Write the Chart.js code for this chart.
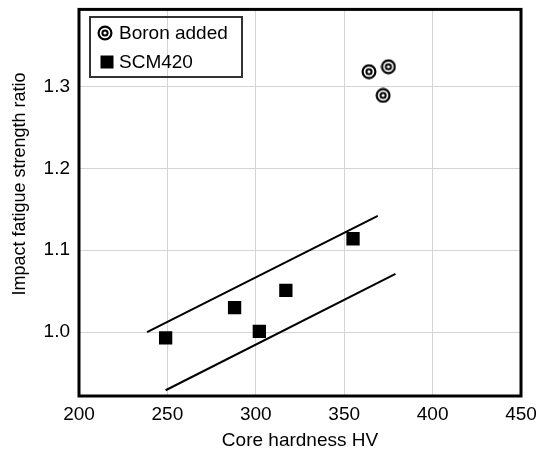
<!DOCTYPE html>
<html>
<head>
<meta charset="utf-8">
<script src="https://cdn.jsdelivr.net/npm/chart.js@4.4.1/dist/chart.umd.min.js"></script>
<style>
  html, body { margin: 0; padding: 0; background: #fff; }
  #wrap { width: 536px; height: 452px; }
</style>
</head>
<body>
<div id="wrap"><canvas id="c" width="536" height="452"></canvas></div>
<script>
// valeurs
const BORON_X = [364, 375, 372];
const BORON_Y = [1.318, 1.324, 1.289];
const SCM_X = [249, 288, 302, 317, 355];
const SCM_Y = [0.993, 1.030, 1.001, 1.051, 1.114];
// bande de dispersion (deux droites)
const UPPER_X = [238.5, 369];
const UPPER_Y = [1.000, 1.142];
const LOWER_X = [249, 379];
const LOWER_Y = [0.929, 1.071];
const X_TICKS = [200, 250, 300, 350, 400, 450];
const Y_TICKS = [1.0, 1.1, 1.2, 1.3];
const LEGEND = ["Boron added", "SCM420"];

const FONT = "'Liberation Sans', Arial, sans-serif";

function pts(xs, ys) { return xs.map((x, i) => ({ x: x, y: ys[i] })); }

// marqueur "cible" pour Boron added
function bullseye(size) {
    const cv = document.createElement("canvas");
    cv.width = size; cv.height = size;
    const c = cv.getContext("2d");
    const m = size / 2;
    c.strokeStyle = "#000";
    c.lineWidth = 2.2;
    c.beginPath(); c.arc(m, m, m - 1.6, 0, Math.PI * 2); c.stroke();
    c.lineWidth = 2;
    c.beginPath(); c.arc(m, m, 2.6, 0, Math.PI * 2); c.stroke();
    return cv;
}
const boronMarker = bullseye(16);

const framePlugin = {
    id: "frame",
    afterDraw(chart) {
        const { ctx, chartArea: a } = chart;
        ctx.save();
        ctx.strokeStyle = "#000";
        ctx.lineWidth = 3;
        ctx.strokeRect(a.left, a.top, a.right - a.left, a.bottom - a.top);

        // légende encadrée
        ctx.lineWidth = 2;
        ctx.strokeStyle = "#333";
        ctx.strokeRect(90, 17, 152, 60);
        ctx.drawImage(boronMarker, 105 - 8, 33 - 8);
        ctx.fillStyle = "#000";
        ctx.fillRect(107 - 6.5, 62 - 6.5, 13, 13);
        ctx.font = "19px " + FONT;
        ctx.textBaseline = "middle";
        ctx.fillText(LEGEND[0], 119, 34);
        ctx.fillText(LEGEND[1], 119, 63);

        // titre de l'axe Y
        ctx.translate(20, 184);
        ctx.rotate(-Math.PI / 2);
        ctx.textAlign = "center";
        ctx.font = "18px " + FONT;
        ctx.fillText("Impact fatigue strength ratio", 0, 0);
        ctx.restore();
    }
};

new Chart(document.getElementById("c"), {
    type: "scatter",
    data: {
        datasets: [
            {
                label: LEGEND[0],
                data: pts(BORON_X, BORON_Y),
                pointStyle: boronMarker,
                pointRadius: 8
            },
            {
                label: LEGEND[1],
                data: pts(SCM_X, SCM_Y),
                pointStyle: "rect",
                pointRadius: 9.4,
                backgroundColor: "#000",
                borderColor: "#000",
                borderWidth: 0
            },
            {
                type: "line",
                data: pts(UPPER_X, UPPER_Y),
                borderColor: "#000",
                borderWidth: 2,
                pointRadius: 0
            },
            {
                type: "line",
                data: pts(LOWER_X, LOWER_Y),
                borderColor: "#000",
                borderWidth: 2,
                pointRadius: 0
            }
        ]
    },
    options: {
        responsive: false,
        animation: false,
        layout: { padding: { left: 0, right: 15, top: 8, bottom: 0 } },
        plugins: { legend: { display: false }, tooltip: { enabled: false } },
        scales: {
            x: {
                type: "linear",
                min: 200, max: 450,
                afterBuildTicks(s) { s.ticks = X_TICKS.map(v => ({ value: v })); },
                afterFit(s) { s.height = 56; s.paddingLeft = 0; s.paddingRight = 0; },
                grid: { color: "#d4d4d4", lineWidth: 1, drawTicks: false },
                border: { display: false },
                ticks: { color: "#000", padding: 7, font: { family: FONT, size: 19 }, maxRotation: 0 },
                title: { display: true, text: "Core hardness HV", color: "#000", padding: { top: 2, bottom: 0 }, font: { family: FONT, size: 19 } }
            },
            y: {
                min: 0.922, max: 1.394,
                afterBuildTicks(s) { s.ticks = Y_TICKS.map(v => ({ value: v })); },
                afterFit(s) { s.width = 79; s.paddingTop = 0; s.paddingBottom = 0; },
                grid: { color: "#d4d4d4", lineWidth: 1, drawTicks: false },
                border: { display: false },
                ticks: { color: "#000", padding: 9, font: { family: FONT, size: 19 }, callback: v => v.toFixed(1) }
            }
        }
    },
    plugins: [framePlugin]
});
</script>
</body>
</html>
